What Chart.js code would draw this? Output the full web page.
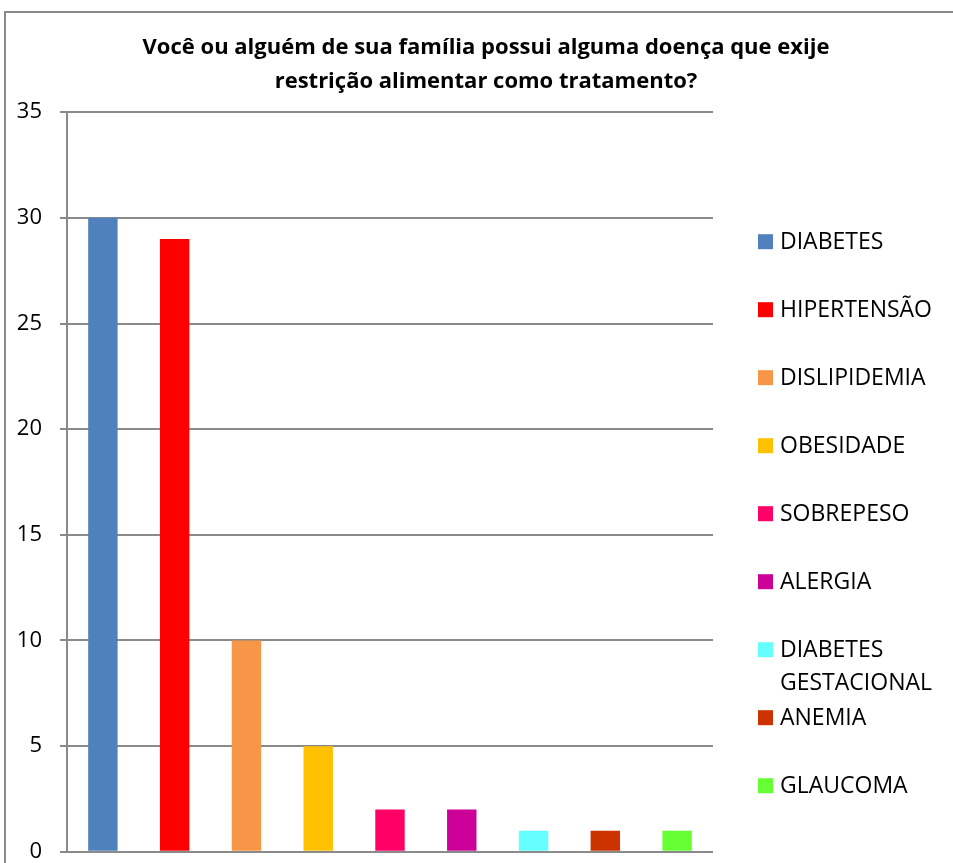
<!DOCTYPE html>
<html>
<head>
<meta charset="utf-8">
<script src="https://cdn.jsdelivr.net/npm/chart.js@4.4.1/dist/chart.umd.min.js"></script>
<style>
  html, body { margin: 0; padding: 0; background: #fff; overflow: hidden; }
  #frame {
    position: absolute; left: 4px; top: 11px;
    width: 960px; height: 870px;
    border-left: 2px solid #8a8a8a; border-top: 2px solid #8a8a8a;
  }
</style>
</head>
<body>
<div id="frame"><canvas id="myChart"></canvas></div>
<script>
// dados
var doencas = ['DIABETES', 'HIPERTENSÃO', 'DISLIPIDEMIA', 'OBESIDADE', 'SOBREPESO',
    'ALERGIA', 'DIABETES GESTACIONAL', 'ANEMIA', 'GLAUCOMA'];
var respostas = [30, 29, 10, 5, 2, 2, 1, 1, 1];
var cores = ['#4f81bd', '#ff0000', '#f79646', '#ffc000', '#ff0066',
    '#cc0099', '#66ffff', '#cc3300', '#66ff33'];
var yTicks = [0, 5, 10, 15, 20, 25, 30, 35];

var fonte = '"Open Sans", Lato, sans-serif';

var datasets = doencas.map(function (nome, i) {
    return {
        label: nome,
        data: [respostas[i]],
        backgroundColor: cores[i],
        barPercentage: 0.41,
        categoryPercentage: 1
    };
});

// legenda desenhada à direita, no estilo do Excel
var legendaDireita = {
    id: 'legendaDireita',
    afterDraw: function (chart) {
        var ctx = chart.ctx;
        var area = chart.chartArea;
        var x = area.right + 45;
        var y = area.top + 129;
        ctx.save();
        ctx.font = '23px ' + fonte;
        ctx.textBaseline = 'middle';
        chart.data.datasets.forEach(function (ds) {
            ctx.fillStyle = ds.backgroundColor;
            ctx.fillRect(x, y - 7, 15, 15);
            ctx.fillStyle = '#000';
            var linhas = ds.label === 'DIABETES GESTACIONAL' ? ['DIABETES', 'GESTACIONAL'] : [ds.label];
            linhas.forEach(function (l, j) {
                ctx.fillText(l, x + 22, y + 1 + j * 33);
            });
            y += 68;
        });
        ctx.restore();
    }
};

var ctx = document.getElementById('myChart').getContext('2d');
var myChart = new Chart(ctx, {
    type: 'bar',
    data: {
        labels: [''],
        datasets: datasets
    },
    options: {
        responsive: true,
        maintainAspectRatio: false,
        animation: false,
        layout: {
            padding: { left: 0, right: 0, top: 0, bottom: 12 }
        },
        plugins: {
            legend: { display: false },
            tooltip: { enabled: false },
            title: {
                display: true,
                text: ['Você ou alguém de sua família possui alguma doença que exije',
                    'restrição alimentar como tratamento?'],
                color: '#000',
                font: { family: fonte, size: 22, weight: 'bold', lineHeight: 1.55 },
                padding: { top: 18, bottom: 13 }
            }
        },
        scales: {
            x: {
                display: false
            },
            y: {
                min: 0,
                max: 35,
                afterBuildTicks: function (axis) {
                    axis.ticks = yTicks.map(function (v) { return { value: v }; });
                },
                afterFit: function (axis) {
                    axis.width = 61;
                },
                ticks: {
                    color: '#000',
                    font: { family: fonte, size: 22 },
                    padding: 18
                },
                grid: {
                    color: '#8a8a8a',
                    lineWidth: 2,
                    tickLength: 7
                },
                border: {
                    color: '#8a8a8a',
                    width: 2
                }
            },
            // espaço reservado para a legenda
            espacoLegenda: {
                type: 'linear',
                position: 'right',
                display: true,
                grid: { display: false },
                border: { display: false },
                ticks: { display: false },
                afterFit: function (axis) {
                    axis.width = 253;
                }
            }
        }
    },
    plugins: [legendaDireita]
});
</script>
</body>
</html>
